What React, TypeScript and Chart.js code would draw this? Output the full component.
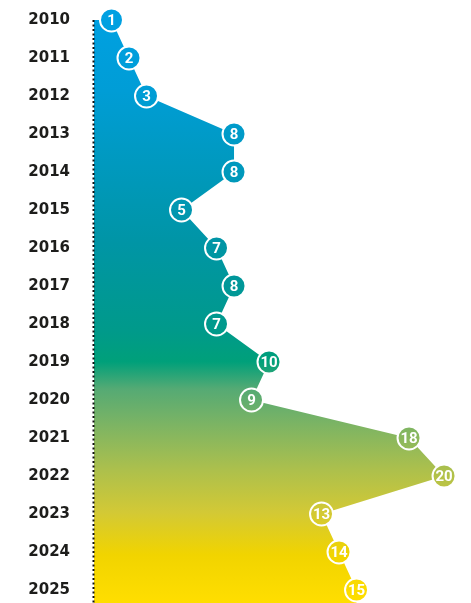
import React, { useEffect, useRef } from "react";
import { Chart, registerables } from "chart.js";

Chart.register(...registerables);

const years = [2010, 2011, 2012, 2013, 2014, 2015, 2016, 2017, 2018, 2019, 2020, 2021, 2022, 2023, 2024, 2025];
const values = [1, 2, 3, 8, 8, 5, 7, 8, 7, 10, 9, 18, 20, 13, 14, 15];

const W = 471;
const H = 603;

export default function App() {
  const ref = useRef<HTMLCanvasElement | null>(null);

  useEffect(() => {
    const canvas = ref.current!;
    const ctx2d = canvas.getContext("2d")!;
    const grad = ctx2d.createLinearGradient(0, 0, 0, H);
    grad.addColorStop(0.0, "#00a1e4");
    grad.addColorStop(0.15, "#009dd6");
    grad.addColorStop(0.4, "#0095a6");
    grad.addColorStop(0.55, "#009a8a");
    grad.addColorStop(0.6, "#00a07a");
    grad.addColorStop(0.645, "#55aa74");
    grad.addColorStop(0.71, "#80b562");
    grad.addColorStop(0.78, "#adc04c");
    grad.addColorStop(0.85, "#d3c935");
    grad.addColorStop(0.92, "#f1d400");
    grad.addColorStop(1.0, "#ffde00");

    const extendFill = {
      id: "extendFill",
      beforeDatasetsDraw(chart: any) {
        const meta = chart.getDatasetMeta(0);
        const last = meta.data[meta.data.length - 1];
        if (!last) return;
        const x0 = chart.scales.x.getPixelForValue(0);
        const c = chart.ctx;
        c.save();
        c.fillStyle = grad;
        c.fillRect(x0, last.y - 1.5, last.x - x0, chart.chartArea.bottom - last.y + 1.5);
        c.restore();
      },
    };

    const dotted = {
      id: "dottedAxis",
      beforeDatasetDraw(chart: any) {
        const x0 = chart.scales.x.getPixelForValue(0);
        const yTop = chart.scales.y.getPixelForValue(years[0]);
        const c = chart.ctx;
        c.save();
        c.strokeStyle = "#111111";
        c.lineWidth = 2;
        c.setLineDash([2, 2.5]);
        c.beginPath();
        c.moveTo(x0 - 0.5, yTop);
        c.lineTo(x0 - 0.5, chart.chartArea.bottom);
        c.stroke();
        c.restore();
      },
    };

    const labels = {
      id: "pointLabels",
      afterDatasetsDraw(chart: any) {
        const meta = chart.getDatasetMeta(0);
        const c = chart.ctx;
        c.save();
        c.fillStyle = "#ffffff";
        c.textAlign = "center";
        c.textBaseline = "middle";
        c.font = "bold 15px Roboto, 'DejaVu Sans', sans-serif";
        meta.data.forEach((el: any, i: number) => {
          c.fillText(String(values[i]), el.x, el.y + 1);
        });
        c.restore();
      },
    };

    const chart = new Chart(canvas, {
      type: "line",
      data: {
        datasets: [
          {
            data: years.map((y, i) => ({ x: values[i], y })),
            backgroundColor: grad,
            borderColor: "rgba(0,0,0,0)",
            borderWidth: 0,
            fill: "origin",
            tension: 0,
            pointRadius: 11.5,
            pointHoverRadius: 11.5,
            pointBackgroundColor: grad,
            pointBorderColor: "#ffffff",
            pointBorderWidth: 2,
            clip: false,
          } as any,
        ],
      },
      options: {
        indexAxis: "y",
        animation: false,
        responsive: false,
        devicePixelRatio: 1,
        layout: { padding: 0, autoPadding: false },
        plugins: {
          legend: { display: false },
          tooltip: { enabled: false },
          title: { display: false },
        },
        scales: {
          x: {
            type: "linear",
            display: false,
            min: 0,
            max: 21.54,
          },
          y: {
            type: "linear",
            reverse: true,
            min: 2010 - 20 / 38,
            max: 2025 + 13 / 38,
            grid: { display: false, drawTicks: false },
            border: { display: false },
            afterFit(scale: any) {
              scale.width = 94;
              scale.paddingTop = 0;
              scale.paddingBottom = 0;
            },
            afterBuildTicks(scale: any) {
              scale.ticks = years.map((v) => ({ value: v }));
            },
            ticks: {
              padding: 24,
              color: "#1d1d1b",
              font: { family: "'DejaVu Sans', sans-serif", size: 15, weight: "bold" },
              callback: (v: any) => String(v),
            },
          },
        },
      } as any,
      plugins: [extendFill, dotted, labels],
    });

    return () => chart.destroy();
  }, []);

  return (
    <div style={{ position: "fixed", left: 0, top: 0, width: W, height: H, background: "#ffffff" }}>
      <canvas ref={ref} width={W} height={H} style={{ display: "block" }} />
    </div>
  );
}
